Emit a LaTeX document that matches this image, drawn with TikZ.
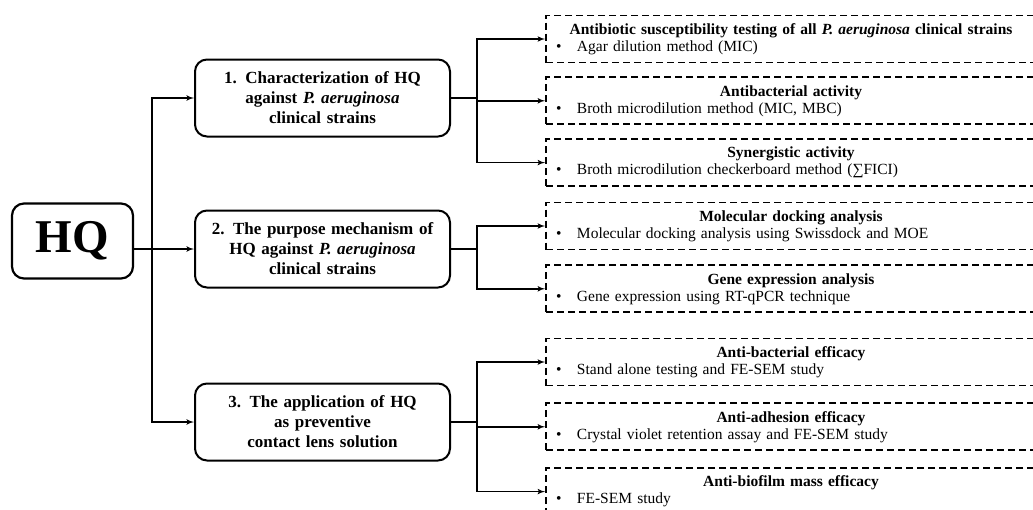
\documentclass[tikz,border=0pt]{standalone}
\usepackage{fontspec}
\setmainfont{Liberation Serif}
\usepackage{tikz}
\usetikzlibrary{arrows, positioning}
\tikzstyle{core} = [draw, rectangle, rounded corners=12pt, line width=2.2pt, minimum width=121pt, minimum height=75pt, inner sep=0pt, font=\fontsize{47}{50}\selectfont\bfseries]
\tikzstyle{aim} = [draw, rectangle, rounded corners=12pt, line width=2pt, minimum width=255pt, minimum height=77pt, text width=245pt, align=center, inner sep=0pt, font=\fontsize{17}{20}\selectfont\bfseries]
\tikzstyle{task} = [draw, rectangle, dash pattern=on 7pt off 4pt, line width=1.8pt, minimum height=47pt, text width=470pt, inner xsep=10pt, inner ysep=2pt, node distance=13pt, font=\fontsize{15.5}{17}\selectfont]
\tikzstyle{arrow} = [draw, -latex', line width=1.6pt]
\tikzstyle{link} = [draw, line width=1.6pt]
\newcommand{\tasktext}[2]{{\centering\noindent\textbf{#1}\par}\noindent\makebox[21pt][l]{\textbullet}#2}

\begin{document}
\begin{tikzpicture}[x=1pt, y=-1pt]
    \useasboundingbox (0,0) rectangle (1033,509);

    \node (hq) [core] at (72.5,241) {HQ};

    \node (aim1) [aim] at (322.5,98) {1. Characterization of HQ\\against \textit{P. aeruginosa}\\clinical strains};
    \node (aim2) [aim] at (322.5,249) {2. The purpose mechanism of\\HQ against \textit{P. aeruginosa}\\clinical strains};
    \node (aim3) [aim] at (322.5,422) {3. The application of HQ\\as preventive\\contact lens solution};

    \node (mic) [task] at (791,39) {\tasktext{Antibiotic susceptibility testing of all \textit{P. aeruginosa} clinical strains}{Agar dilution method (MIC)}};
    \node (mbc) [task, below=of mic] {\tasktext{Antibacterial activity}{Broth microdilution method (MIC, MBC)}};
    \node (fici) [task, below=of mbc] {\tasktext{Synergistic activity}{Broth microdilution checkerboard method (∑FICI)}};

    \node (dock) [task] at (791,226) {\tasktext{Molecular docking analysis}{Molecular docking analysis using Swissdock and MOE}};
    \node (gene) [task, below=14pt of dock] {\tasktext{Gene expression analysis}{Gene expression using RT-qPCR technique}};

    \node (kill) [task] at (791,362) {\tasktext{Anti-bacterial efficacy}{Stand alone testing and FE-SEM study}};
    \node (adh) [task, below=16pt of kill] {\tasktext{Anti-adhesion efficacy}{Crystal violet retention assay and FE-SEM study}};
    \node (film) [task, below=16pt of adh] {\tasktext{Anti-biofilm mass efficacy}{FE-SEM study}};

    \coordinate (trunk) at (152,249);
    \coordinate (fork1) at (477,98);
    \coordinate (fork2) at (477,249);
    \coordinate (fork3) at (477,422);

    \draw [arrow] (hq.east |- aim2) -- (aim2);
    \draw [arrow] (trunk) |- (aim1);
    \draw [arrow] (trunk) |- (aim3);

    \draw [link] (aim1) -- (fork1);
    \draw [arrow] (fork1) |- (mic);
    \draw [arrow] (fork1) |- (mbc);
    \draw [arrow] (fork1) |- (fici);

    \draw [link] (aim2) -- (fork2);
    \draw [arrow] (fork2) |- (dock);
    \draw [arrow] (fork2) |- (gene);

    \draw [link] (aim3) -- (fork3);
    \draw [arrow] (fork3) |- (kill);
    \draw [arrow] (fork3) |- (adh);
    \draw [arrow] (fork3) |- (film);
\end{tikzpicture}
\end{document}
